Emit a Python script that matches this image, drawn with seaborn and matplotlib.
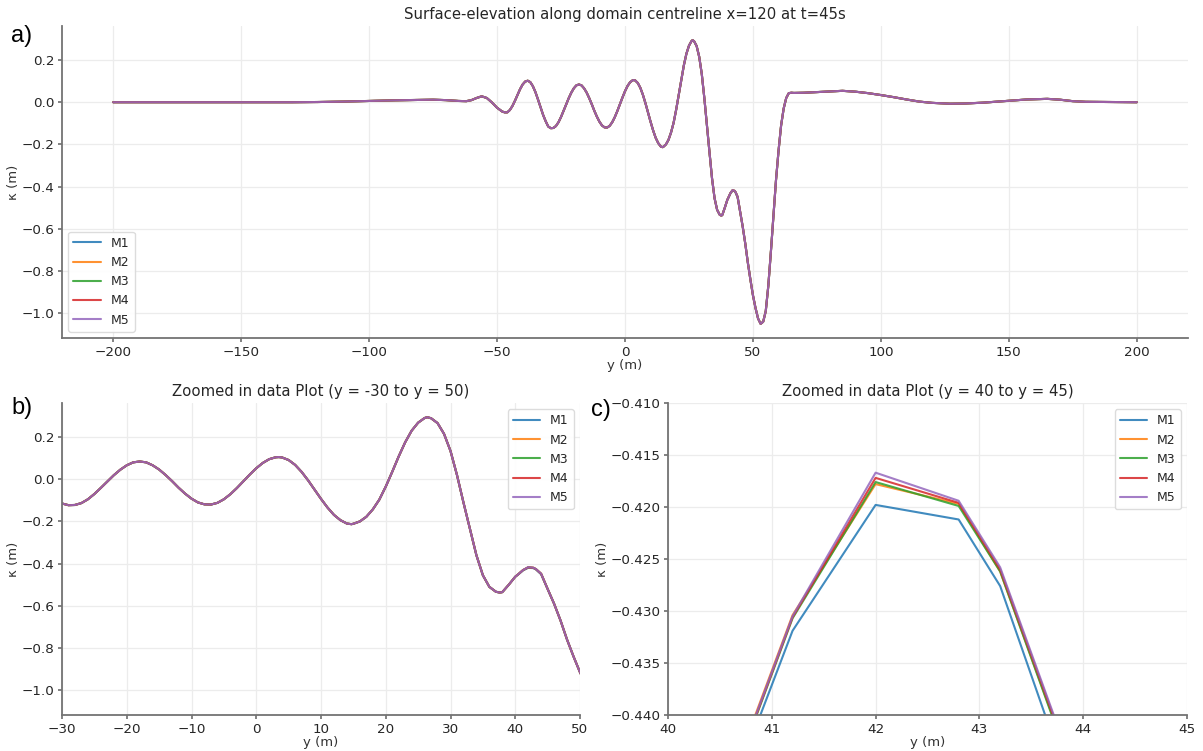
import numpy as np
import pandas as pd
import matplotlib
matplotlib.use("Agg")
import matplotlib.pyplot as plt
import seaborn as sns

# ---------------- data ----------------
models = ["M1", "M2", "M3", "M4", "M5"]

y_pos = [-200, -180, -160, -150, -140, -130, -120, -110, -100, -90, -80, -75, -70,
         -65, -62, -60, -58, -56, -54, -52, -50, -48, -47, -46, -45, -44, -43, -42,
         -41, -40, -39, -38, -37, -36, -35, -34, -33, -32, -31, -30, -29, -28, -27,
         -26, -25, -24, -23, -22, -21, -20, -19, -18, -17, -16, -15, -14, -13, -12,
         -11, -10, -9, -8, -7, -6, -5, -4, -3, -2, -1, 0, 1, 2, 3, 3.5, 4, 5, 6, 7,
         8, 9, 10, 11, 12, 13, 14, 14.7, 15, 16, 17, 18, 19, 20, 21, 22, 23, 24, 25,
         26, 26.4, 27, 28, 29, 30, 31, 32, 33, 34, 35, 36, 37, 37.6, 38, 39, 40,
         40.4, 41.2, 42.0, 42.8, 43.2, 44.0, 45, 46, 47, 48, 49, 50, 51, 52, 53,
         54, 55, 56, 57, 58, 59, 60, 61, 62, 63, 64, 65, 66, 70, 75, 80, 85, 90, 95,
         100, 105, 110, 115, 120, 127, 133, 140, 150, 157, 165, 170, 175, 180, 190, 200]

kappa_base = [0.0, 0.0, 0.0, 0.0, 0.0, 0.0, 0.001, 0.003, 0.006, 0.009, 0.011, 0.012, 0.010,
              0.006, 0.005, 0.010, 0.020, 0.028, 0.020, -0.001, -0.026, -0.044, -0.048, -0.048, -0.037, -0.018, 0.007, 0.035,
              0.062, 0.084, 0.098, 0.102, 0.095, 0.076, 0.048, 0.013, -0.024, -0.060, -0.090, -0.115, -0.123, -0.122, -0.113,
              -0.095, -0.070, -0.041, -0.011, 0.019, 0.045, 0.066, 0.080, 0.084, 0.080, 0.066, 0.046, 0.020, -0.009, -0.040,
              -0.068, -0.092, -0.110, -0.119, -0.120, -0.112, -0.095, -0.071, -0.042, -0.010, 0.022, 0.052, 0.077, 0.095, 0.104, 0.105, 0.103, 0.091, 0.068, 0.035,
              -0.005, -0.049, -0.093, -0.134, -0.169, -0.194, -0.210, -0.213, -0.211, -0.200, -0.178, -0.143, -0.097, -0.035, 0.035, 0.108, 0.175, 0.230, 0.268,
              0.290, 0.294, 0.289, 0.266, 0.215, 0.134, 0.020, -0.110, -0.235, -0.360, -0.455, -0.510, -0.533, -0.537, -0.535, -0.500, -0.462,
              -0.452, -0.4305, -0.4167, -0.4194, -0.4258, -0.4478, -0.520, -0.590, -0.670, -0.760, -0.840, -0.915, -0.975, -1.025, -1.050,
              -1.040, -0.990, -0.870, -0.710, -0.540, -0.370, -0.230, -0.110, -0.030, 0.020, 0.043, 0.045, 0.044, 0.045, 0.048, 0.051, 0.054, 0.050, 0.043,
              0.034, 0.024, 0.013, 0.003, -0.003, -0.007, -0.006, -0.002, 0.007, 0.013, 0.016, 0.012, 0.005, 0.002, 0.001, 0.0]

# model-specific values around the local crest (y = 40.4 .. 44.0)
zoom_y = [40.4, 41.2, 42.0, 42.8, 43.2, 44.0]
m1_zoom = [-0.4528, -0.4319, -0.4198, -0.4212, -0.4276, -0.4505]
m2_zoom = [-0.4518, -0.4304, -0.4178, -0.4197, -0.4262, -0.4482]
m3_zoom = [-0.4522, -0.4307, -0.4176, -0.4199, -0.4262, -0.4484]
m4_zoom = [-0.4521, -0.4306, -0.4172, -0.4196, -0.4260, -0.4480]
m5_zoom = [-0.4520, -0.4305, -0.4167, -0.4194, -0.4258, -0.4478]
zoom_vals = {"M1": m1_zoom, "M2": m2_zoom, "M3": m3_zoom, "M4": m4_zoom, "M5": m5_zoom}

frames = []
for m in models:
    vals = list(kappa_base)
    for yz, vz in zip(zoom_y, zoom_vals[m]):
        vals[y_pos.index(yz)] = vz
    frames.append(pd.DataFrame({"y": y_pos, "kappa": vals, "model": m}))
df = pd.concat(frames, ignore_index=True)

# ---------------- style ----------------
sns.set_theme(style="ticks", rc={
    "axes.grid": True,
    "grid.color": "#ececec",
    "grid.linewidth": 0.9,
    "axes.edgecolor": "0.45",
    "axes.linewidth": 1.3,
    "xtick.color": "0.45",
    "ytick.color": "0.45",
    "xtick.labelcolor": "0.15",
    "ytick.labelcolor": "0.15",
    "xtick.major.size": 3,
    "ytick.major.size": 3,
    "xtick.major.pad": 2.5,
    "ytick.major.pad": 2.5,
})
plt.rcParams["font.family"] = ["DejaVu Sans"]

palette = sns.color_palette("tab10", 5)
W, H = 1203, 751
fig = plt.figure(figsize=(W / 100, H / 100), dpi=100)

def box(l, t, r, b):
    return [l / W, 1 - b / H, (r - l) / W, (b - t) / H]

ax_a = fig.add_axes(box(62, 26, 1188, 338))
ax_b = fig.add_axes(box(62, 403, 580, 715))
ax_c = fig.add_axes(box(668, 403, 1187, 715))

for ax in (ax_a, ax_b, ax_c):
    sns.lineplot(data=df, x="y", y="kappa", hue="model", palette=palette,
                 estimator=None, sort=False, linewidth=1.5, alpha=0.85, ax=ax)
    ax.set_xlabel("y (m)", fontsize=9.5, color="0.2", labelpad=0)
    ax.set_ylabel("κ (m)", fontsize=9.5, color="0.2", labelpad=1)
    ax.tick_params(labelsize=9.7)
    sns.despine(ax=ax)

ax_a.set_title("Surface-elevation along domain centreline x=120 at t=45s", fontsize=10.7, color="0.15", pad=5)
ax_a.legend(loc="lower left", fontsize=9, framealpha=0.9, edgecolor="0.85", handlelength=2.2)

ax_b.set_xlim(-30, 50)
ax_b.set_title("Zoomed in data Plot (y = -30 to y = 50)", fontsize=10.7, color="0.15", pad=5)
ax_b.legend(loc="upper right", fontsize=9, framealpha=0.9, edgecolor="0.85", handlelength=2.2)

ax_c.set_xlim(40, 45)
ax_c.set_ylim(-0.44, -0.41)
ax_c.set_yticks([-0.44, -0.435, -0.43, -0.425, -0.42, -0.415, -0.41])
ax_c.set_yticklabels(["−0.440", "−0.435", "−0.430", "−0.425", "−0.420", "−0.415", "−0.410"])
ax_c.set_title("Zoomed in data Plot (y = 40 to y = 45)", fontsize=10.7, color="0.15", pad=5)
ax_c.legend(loc="upper right", fontsize=9, framealpha=0.9, edgecolor="0.85", handlelength=2.2)

for txt, x, y in (("a)", 22, 36), ("b)", 22, 408), ("c)", 601, 410)):
    fig.text(x / W, 1 - y / H, txt, fontsize=17, family="Liberation Sans",
             ha="center", va="center", color="black")

fig.savefig("out.png", dpi=100)
